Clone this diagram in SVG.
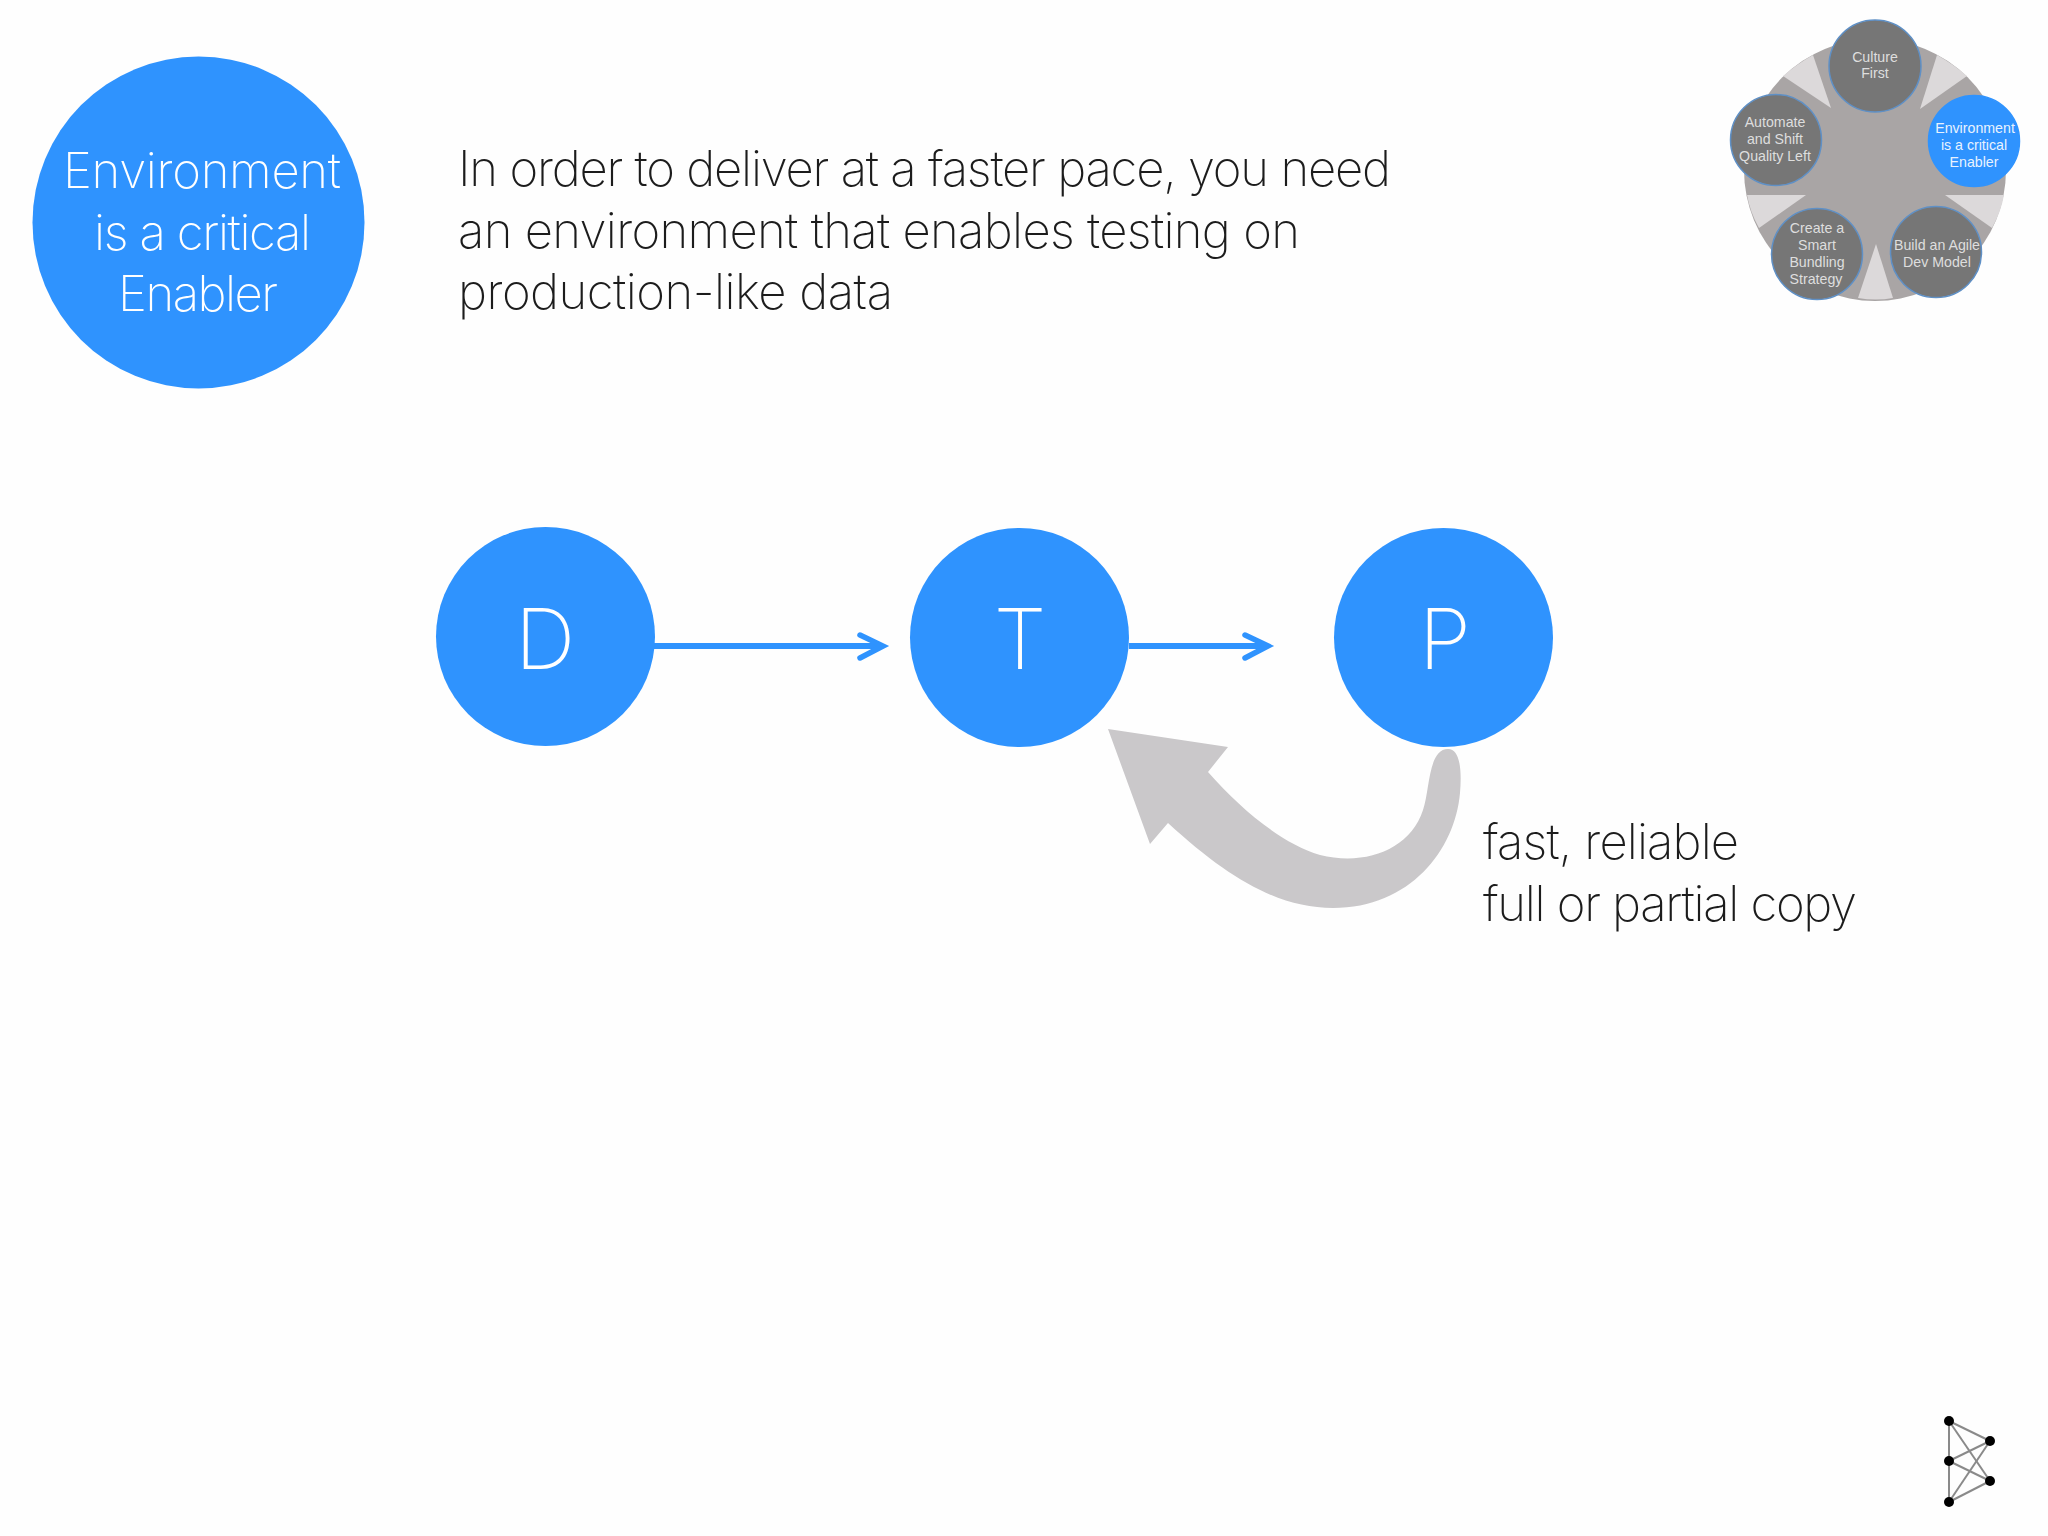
<svg xmlns="http://www.w3.org/2000/svg" width="2048" height="1536" viewBox="0 0 2048 1536">
<style>
.blue{fill:#2f93fe}
.t{font-family:"Inter","Lato","Liberation Sans",sans-serif;font-weight:250}
.big{font-size:49px;fill:#1c1c1c}
.head{font-size:49px;fill:#fff}
.letter{font-size:84px;fill:#fff;text-anchor:middle;font-weight:200}
.thumb circle{fill:#767676;stroke:#5f90c6;stroke-width:1.500}
.thumb circle.on{fill:#2f93fe;stroke:#2f93fe}
.thumb text{font-family:"Liberation Sans",Arial,sans-serif;font-size:14.2px;fill:#dedede;text-anchor:middle}
.thumb text.onT{fill:#e8f2ff}
.wedge{fill:#dcd9da}
.conn{fill:none;stroke:#2f93fe;stroke-width:6}
.hd{fill:none;stroke:#2f93fe;stroke-width:5.500;stroke-linecap:round;stroke-linejoin:miter}
.lg line{stroke:#8a8a8a;stroke-width:2}
</style>
<rect width="2048" height="1536" fill="#fefefe"/>
<g id="node-title"><circle class="blue" cx="198.500" cy="222.500" r="166"/>
<text class="t head" x="63" y="188" textLength="278">Environment</text><text class="t head" x="94" y="250" textLength="217">is a critical</text><text class="t head" x="118" y="311" textLength="160">Enabler</text></g>
<g id="intro"><text class="t big" x="458" y="186" textLength="933">In order to deliver at a faster pace, you need</text>
<text class="t big" x="458" y="248" textLength="842">an environment that enables testing on</text>
<text class="t big" x="458" y="309" textLength="435">production-like data</text></g>
<g id="thumbnail" class="thumb">
<circle cx="1875" cy="170" r="131" style="fill:#a9a5a5;stroke:none"/>
<path class="wedge" d="M1813 55Q1797 64 1783 76L1831 108Z"/>
<path class="wedge" d="M1937 55Q1953 64 1967 76L1920 109Z"/>
<path class="wedge" d="M1945 195H2004Q2001 212 1992 228Z"/>
<path class="wedge" d="M1806 195H1747Q1750 212 1759 228Z"/>
<path class="wedge" d="M1876 244L1858 298Q1876 301 1893 298Z"/>
<g id="node-culture"><circle cx="1875" cy="66" r="46"/><text x="1875" y="62">Culture</text><text x="1875" y="78">First</text></g>
<g id="node-environment"><circle class="on" cx="1974" cy="141" r="45.500"/><text class="onT" x="1975" y="133">Environment</text><text class="onT" x="1974" y="150">is a critical</text><text class="onT" x="1974" y="167">Enabler</text></g>
<g id="node-automate"><circle cx="1776" cy="140" r="45.500"/><text x="1775" y="127">Automate</text><text x="1775" y="144">and Shift</text><text x="1775" y="161">Quality Left</text></g>
<g id="node-bundling"><circle cx="1817" cy="254" r="45.500"/><text x="1817" y="233">Create a</text><text x="1817" y="250">Smart</text><text x="1817" y="267">Bundling</text><text x="1816" y="284">Strategy</text></g>
<g id="node-agile"><circle cx="1936" cy="252" r="45.500"/><text x="1937" y="250">Build an Agile</text><text x="1937" y="267">Dev Model</text></g>
</g>
<g id="connectors">
<path class="conn" d="M654 646H882"/><path class="hd" d="M860 635L883 646L860 658"/>
<path class="conn" d="M1129 646H1267"/><path class="hd" d="M1245 635L1268 646L1245 658"/>
<path d="M1108 729L1228 747L1208 772C1240 808 1280 843 1320 855C1365 866 1410 850 1423 810C1430 790 1428 749 1448 749C1460 749 1462 770 1460 793C1455 850 1410 908 1333 908C1280 908 1230 880 1168 823L1150 844Z" fill="#cac8ca"/>
</g>
<g id="node-d"><circle class="blue" cx="545.500" cy="636.500" r="109.500"/><text class="t letter" x="545" y="669">D</text></g>
<g id="node-t"><circle class="blue" cx="1019.500" cy="637.500" r="109.500"/><text class="t letter" x="1020" y="669">T</text></g>
<g id="node-p"><circle class="blue" cx="1443.500" cy="637.500" r="109.500"/><text class="t letter" x="1445" y="669">P</text></g>
<g id="caption"><text class="t big" x="1483" y="859" textLength="256">fast, reliable</text><text class="t big" x="1483" y="921" textLength="374">full or partial copy</text></g>
<g id="logo" class="lg">
<line x1="1949" y1="1421" x2="1949" y2="1502"/><line x1="1949" y1="1421" x2="1990" y2="1441"/><line x1="1949" y1="1421" x2="1990" y2="1481"/><line x1="1949" y1="1461" x2="1990" y2="1441"/><line x1="1949" y1="1461" x2="1990" y2="1481"/><line x1="1949" y1="1502" x2="1990" y2="1441"/><line x1="1949" y1="1502" x2="1990" y2="1481"/>
<circle cx="1949" cy="1421" r="5"/><circle cx="1949" cy="1461" r="5"/><circle cx="1949" cy="1502" r="5"/><circle cx="1990" cy="1441" r="5"/><circle cx="1990" cy="1481" r="5"/>
</g>
</svg>
